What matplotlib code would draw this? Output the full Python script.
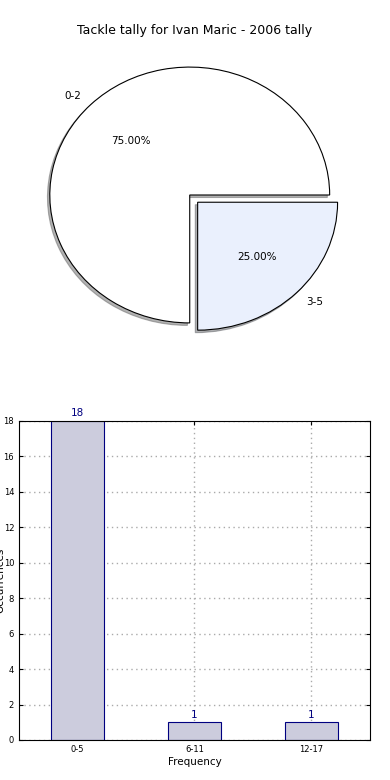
import matplotlib
matplotlib.use('Agg')
import matplotlib.pyplot as plt

# pie data
pie_labels = ['0-2', '3-5']
pie_values = [75, 25]
pie_colors = ['#ffffff', '#eaf0fd']
pie_explode = [0, 0.08]

# bar data
bar_labels = ['0-5', '6-11', '12-17']
bar_values = [18, 1, 1]

fig = plt.figure(figsize=(3.9, 7.8), dpi=100)

ax1 = fig.add_axes([0.038, 0.545, 0.897, 0.41])
wedges, texts, autotexts = ax1.pie(pie_values, labels=pie_labels, colors=pie_colors,
                                   explode=pie_explode, autopct='%1.2f%%',
                                   shadow={'ox': -0.012, 'oy': -0.014, 'shade': 0.6},
                                   startangle=0, counterclock=True,
                                   wedgeprops={'edgecolor': 'black', 'linewidth': 0.8},
                                   textprops={'fontsize': 7.5})
for t, lab in zip(texts, pie_labels):
    t.set_ha('right' if lab == '0-2' else 'left')
ax1.set_aspect('auto')
ax1.set_xlim(-1.25, 1.25)
ax1.set_ylim(-1.25, 1.25)
fig.text(0.5, 0.961, 'Tackle tally for Ivan Maric - 2006 tally', fontsize=9,
         ha='center', va='center')

ax2 = fig.add_axes([0.0487, 0.0513, 0.9, 0.409])
x = range(len(bar_values))
bars = ax2.bar(x, bar_values, width=0.45, color='#ccccdd', edgecolor='navy',
               linewidth=0.8, zorder=2)
for xi, v in zip(x, bar_values):
    ax2.text(xi, v + 0.15, str(v), ha='center', va='bottom', color='navy', fontsize=7.5)
ax2.set_xticks(list(x))
ax2.set_xticklabels(bar_labels, fontsize=6)
ax2.set_yticks(range(0, 19, 2))
ax2.tick_params(axis='y', labelsize=6)
ax2.tick_params(direction='in', top=True, right=True, length=3)
ax2.set_xlim(-0.5, 2.5)
ax2.set_ylim(0, 18)
ax2.grid(True, linestyle=(0, (1, 2.5)), color='#aaaaaa', linewidth=1, zorder=0)
ax2.set_axisbelow(True)
ax2.set_xlabel('Frequency', fontsize=7.5, labelpad=2)
ax2.set_ylabel('Occurrences', fontsize=7.5, labelpad=-1)

fig.savefig('out.png', dpi=100)
